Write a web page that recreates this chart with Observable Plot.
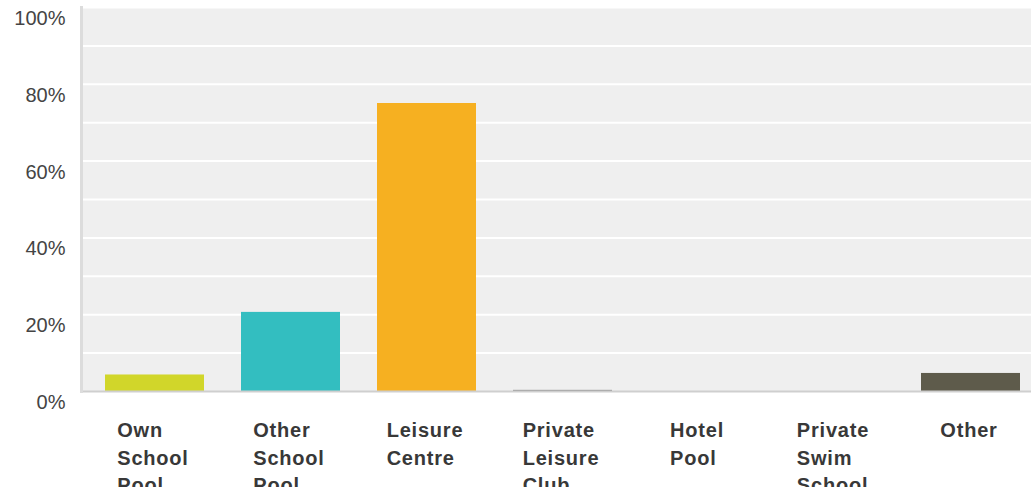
<!DOCTYPE html>
<html>
<head>
<meta charset="utf-8">
<script src="https://cdn.jsdelivr.net/npm/d3@7"></script>
<script src="https://cdn.jsdelivr.net/npm/@observablehq/plot@0.6"></script>
<style>
  html, body { margin: 0; padding: 0; background: #fff; }
  #chart svg { display: block; overflow: hidden; font-family: "Liberation Sans", Arial, sans-serif; }
</style>
</head>
<body>
<div id="chart"></div>
<script>
const categories = ["Own School Pool", "Other School Pool", "Leisure Centre", "Private Leisure Club", "Hotel Pool", "Private Swim School", "Other"];
const values = [4.3, 20.6, 75.0, 0.3, 0, 0, 4.7];
const colors = ["#d1d62a", "#33bec0", "#f6b021", "#8a8a8a", "#8a8a8a", "#8a8a8a", "#5e5b4b"];
const yTicks = [0, 20, 40, 60, 80, 100];
const gridTicks = [10, 20, 30, 40, 50, 60, 70, 80, 90, 100];

const data = categories.map((c, i) => ({category: c, value: values[i]}));

const plot = Plot.plot({
  width: 1031,
  height: 487,
  marginLeft: 81,
  marginRight: 0,
  marginTop: 7,
  marginBottom: 96,
  style: {fontFamily: "'Liberation Sans', Arial, sans-serif", background: "#fff", overflow: "hidden"},
  x: {domain: categories, range: [84, 1042], paddingInner: 0.27, paddingOuter: 0.1314, align: 0.5, axis: null},
  y: {domain: [0, 100], axis: null},
  color: {domain: categories, range: colors},
  marks: [
    Plot.frame({fill: "#efefef", stroke: null}),
    Plot.ruleY(gridTicks, {stroke: "#ffffff", strokeWidth: 2}),
    Plot.barY(data, {x: "category", y: "value", fill: "category"}),
    Plot.ruleY([0], {stroke: "#cfcfcf", strokeWidth: 2}),
    Plot.frame({anchor: "left", stroke: "#dcdcdc", strokeWidth: 3}),
    Plot.axisY(yTicks, {tickSize: 0, tickPadding: 16, dy: 11, fontSize: 20, fill: "#444", tickFormat: d => d + "%", label: null}),
    Plot.text(categories, {
      x: d => d,
      text: d => d.split(" ").join("\n"),
      frameAnchor: "bottom",
      lineAnchor: "top",
      textAnchor: "start",
      dy: 26,
      fontSize: 20,
      fontWeight: "bold",
      lineHeight: 1.38,
      fill: "#383838"
    })
  ]
});

document.getElementById("chart").appendChild(plot);

// Center each multi-line label block on its band while keeping lines left-aligned
plot.querySelectorAll('g[aria-label="text"] text').forEach(t => {
  t.style.letterSpacing = "0.8px";
  const w = t.getBBox().width;
  const tr = t.getAttribute("transform") || "";
  t.setAttribute("transform", tr + ` translate(${-w / 2 - 2},0)`);
});
</script>
</body>
</html>
